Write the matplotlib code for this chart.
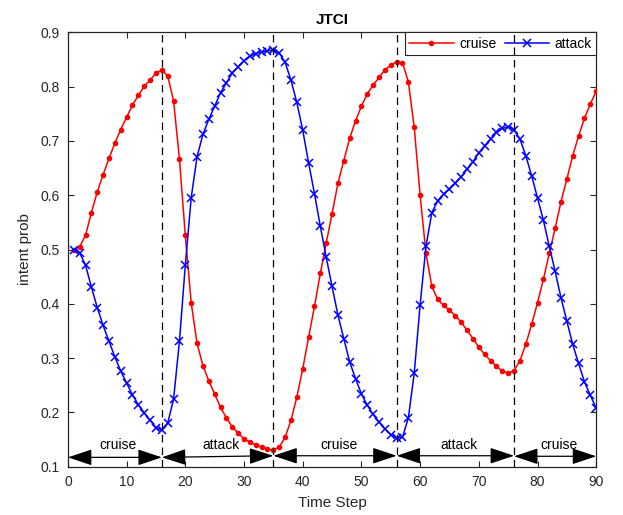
"""
Intent probability over time for the JTCI estimator, with the true
manoeuvre segments marked below the curves.
"""

import numpy as np
import matplotlib.pyplot as plt

plt.rcParams['font.family'] = ['Liberation Sans', 'DejaVu Sans']

time_step = np.arange(1, 91)

cruise_prob = [
    0.500, 0.505, 0.526, 0.568, 0.606, 0.638, 0.668, 0.696, 0.721, 0.744,
    0.766, 0.784, 0.801, 0.812, 0.825, 0.831, 0.820, 0.774, 0.667, 0.526,
    0.402, 0.327, 0.286, 0.258, 0.234, 0.209, 0.190, 0.173, 0.162, 0.151,
    0.145, 0.140, 0.136, 0.132, 0.131, 0.136, 0.154, 0.185, 0.228, 0.280,
    0.338, 0.395, 0.456, 0.512, 0.566, 0.622, 0.664, 0.705, 0.737, 0.764,
    0.787, 0.803, 0.817, 0.831, 0.840, 0.846, 0.844, 0.809, 0.725, 0.600,
    0.493, 0.432, 0.408, 0.397, 0.388, 0.378, 0.366, 0.351, 0.336, 0.320,
    0.307, 0.295, 0.285, 0.276, 0.272, 0.277, 0.295, 0.325, 0.362, 0.402,
    0.445, 0.493, 0.539, 0.588, 0.630, 0.673, 0.709, 0.742, 0.768, 0.792,
]

attack_prob = [
    0.500, 0.494, 0.471, 0.431, 0.393, 0.360, 0.331, 0.302, 0.276, 0.254,
    0.232, 0.214, 0.199, 0.185, 0.172, 0.167, 0.180, 0.224, 0.331, 0.471,
    0.595, 0.671, 0.712, 0.740, 0.764, 0.789, 0.807, 0.825, 0.837, 0.848,
    0.856, 0.861, 0.864, 0.866, 0.868, 0.862, 0.845, 0.812, 0.771, 0.720,
    0.660, 0.603, 0.543, 0.486, 0.432, 0.379, 0.336, 0.293, 0.262, 0.234,
    0.213, 0.196, 0.182, 0.170, 0.159, 0.153, 0.154, 0.190, 0.272, 0.398,
    0.506, 0.568, 0.590, 0.602, 0.611, 0.622, 0.634, 0.648, 0.662, 0.678,
    0.691, 0.704, 0.716, 0.723, 0.726, 0.720, 0.704, 0.673, 0.636, 0.595,
    0.554, 0.506, 0.460, 0.411, 0.368, 0.325, 0.290, 0.256, 0.231, 0.208,
]

# true manoeuvre segments
seg_bounds = [0, 16, 35, 56, 76, 90]
seg_labels = ['cruise', 'attack', 'cruise', 'attack', 'cruise']
arrow_y_start = [0.117, 0.117, 0.120, 0.120, 0.119]
arrow_y_end = [0.117, 0.120, 0.120, 0.120, 0.119]
switch_steps = seg_bounds[1:-1]

x_ticks = list(range(0, 91, 10))
y_ticks = [0.1, 0.2, 0.3, 0.4, 0.5, 0.6, 0.7, 0.8, 0.9]

AXIS_GREY = '#262626'

fig = plt.figure(figsize=(6.23, 5.15), dpi=100)
ax = fig.add_axes([0.109, 0.094, 0.848, 0.843])

ax.plot(time_step, cruise_prob, color='#FF0000', linewidth=1.1, marker='.',
        markersize=6, label='cruise', zorder=3)
ax.plot(time_step, attack_prob, color='#0000FF', linewidth=1.1, marker='x',
        markersize=6, markeredgewidth=1.1, label='attack', zorder=3)

for s in switch_steps:
    ax.axvline(s, color='black', linestyle=(0, (6, 4)), linewidth=0.9, zorder=7)

for i, lab in enumerate(seg_labels):
    x0, x1 = seg_bounds[i], seg_bounds[i + 1]
    ax.annotate('', xy=(x1, arrow_y_end[i]), xytext=(x0, arrow_y_start[i]),
                arrowprops=dict(arrowstyle='<|-|>,head_length=1.5,head_width=0.5',
                                color='black', linewidth=0.9, mutation_scale=10,
                                shrinkA=0, shrinkB=0),
                zorder=4)
    ax.text((x0 + x1) / 2 + 0.6, 0.140, lab, ha='center', va='center',
            fontsize=10, color='black', zorder=4)

ax.set_xlim(0, 90)
ax.set_ylim(0.1, 0.9)
ax.set_xticks(x_ticks)
ax.set_yticks(y_ticks)
ax.set_yticklabels([f'{v:g}' for v in y_ticks])

ax.set_title('JTCI', fontsize=11, fontweight='bold', pad=6)
ax.set_xlabel('Time Step', fontsize=11, color=AXIS_GREY, labelpad=5)
ax.set_ylabel('intent prob', fontsize=11, color=AXIS_GREY, labelpad=6)

ax.tick_params(direction='in', top=True, right=True, length=4, width=0.8,
               labelsize=10, colors=AXIS_GREY, pad=6)
for sp in ax.spines.values():
    sp.set_color(AXIS_GREY)
    sp.set_linewidth(0.9)

leg = ax.legend(loc='upper right', ncol=2, fontsize=10, frameon=True,
                fancybox=False, edgecolor=AXIS_GREY, framealpha=1,
                borderaxespad=0, handlelength=3.2, handletextpad=0.4,
                columnspacing=0.6, borderpad=0.3)
leg.get_frame().set_linewidth(0.8)
leg.set_zorder(5)

fig.savefig('out.png', dpi=100, facecolor='white')
